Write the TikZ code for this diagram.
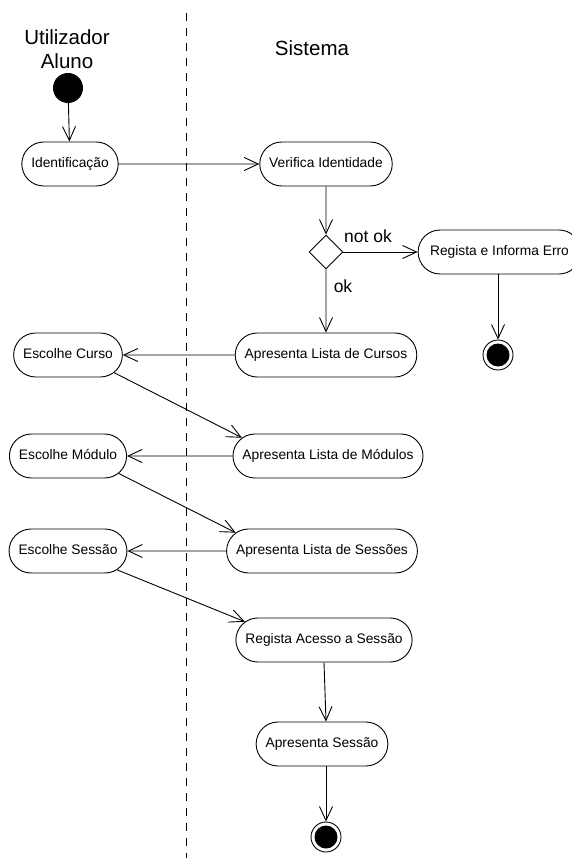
\documentclass[tikz,border=0pt]{standalone}
\usepackage{fontspec}
\setmainfont{Liberation Sans}
\usetikzlibrary{arrows.meta,shapes.misc,shapes.geometric}

\tikzset{
  action/.style = {rounded rectangle, draw, line width=0.9pt,
     minimum height=44pt, inner xsep=8.5pt, inner ysep=0pt,
     text height=10pt, text depth=3pt,
     font=\fontsize{13.8}{16}\selectfont},
  decision/.style = {diamond, draw, line width=0.9pt,
     minimum width=34pt, minimum height=34pt, inner sep=0pt},
  startdot/.style = {circle, fill=black, minimum size=30pt, inner sep=0pt},
  enddot/.style = {circle, draw, line width=0.9pt, minimum size=30pt,
     inner sep=0pt, path picture={\fill[black]
     (path picture bounding box.center) circle (11.5pt);}},
  flow/.style = {-{Straight Barb[length=14pt,width=13pt]}, line width=0.9pt},
  lane/.style = {font=\fontsize{20.5}{23.5}\selectfont, align=center},
  guard/.style = {font=\fontsize{17.5}{20}\selectfont}
}

\begin{document}
\begin{tikzpicture}[x=1pt, y=-1pt]
        \useasboundingbox (0,0) rectangle (571,858);
        % swimlanes
        \node [lane] at (67,49)  (user) {Utilizador\\Aluno};
        \node [lane] at (312,48) (sys)  {Sistema};
        \draw [line width=0.9pt, dash pattern=on 8pt off 7pt]
            (186,13) -- (186,858);
        % nodes
        \node [startdot] at (68,88)   (init)   {};
        \node [action]   at (70,164)  (ident)  {Identificação};
        \node [action]   at (326,164) (verif)  {Verifica Identidade};
        \node [decision] at (326,252) (check)  {};
        \node [action, inner xsep=11pt]
                         at (499.5,252) (erro) {Regista e Informa Erro};
        \node [enddot]   at (498,355) (final1) {};
        \node [action]   at (326,355) (cursos) {Apresenta Lista de Cursos};
        \node [action]   at (68,355)  (escCurso) {Escolhe Curso};
        \node [action]   at (328,456) (modulos) {Apresenta Lista de Módulos};
        \node [action]   at (68,456)  (escModulo) {Escolhe Módulo};
        \node [action]   at (322,551) (sessoes) {Apresenta Lista de Sessões};
        \node [action]   at (68,551)  (escSessao) {Escolhe Sessão};
        \node [action]   at (324,640) (regAcesso) {Regista Acesso a Sessão};
        \node [action]   at (322,744) (apSessao) {Apresenta Sessão};
        \node [enddot]   at (326,837) (final2) {};
        % guards
        \node [guard] at (368,236) (notok) {not ok};
        \node [guard] at (343,286) (ok) {ok};
        % flows
        \draw [flow] (init) -- (ident);
        \draw [flow] (ident) -- (verif);
        \draw [flow] (verif) -- (check);
        \draw [flow] (check) -- (erro);
        \draw [flow] (final1 |- erro.south) -- (final1);
        \draw [flow] (check) -- (cursos);
        \draw [flow] (cursos) -- (escCurso);
        \draw [flow] (escCurso.-21) -- (modulos.168);
        \draw [flow] (modulos) -- (escModulo);
        \draw [flow] (escModulo.-19) -- (sessoes.168);
        \draw [flow] (sessoes) -- (escSessao);
        \draw [flow] (escSessao.-21) -- (regAcesso.167);
        \draw [flow] (regAcesso.south) -- (apSessao.north -| final2);
        \draw [flow] (final2 |- apSessao.south) -- (final2);
\end{tikzpicture}
\end{document}
